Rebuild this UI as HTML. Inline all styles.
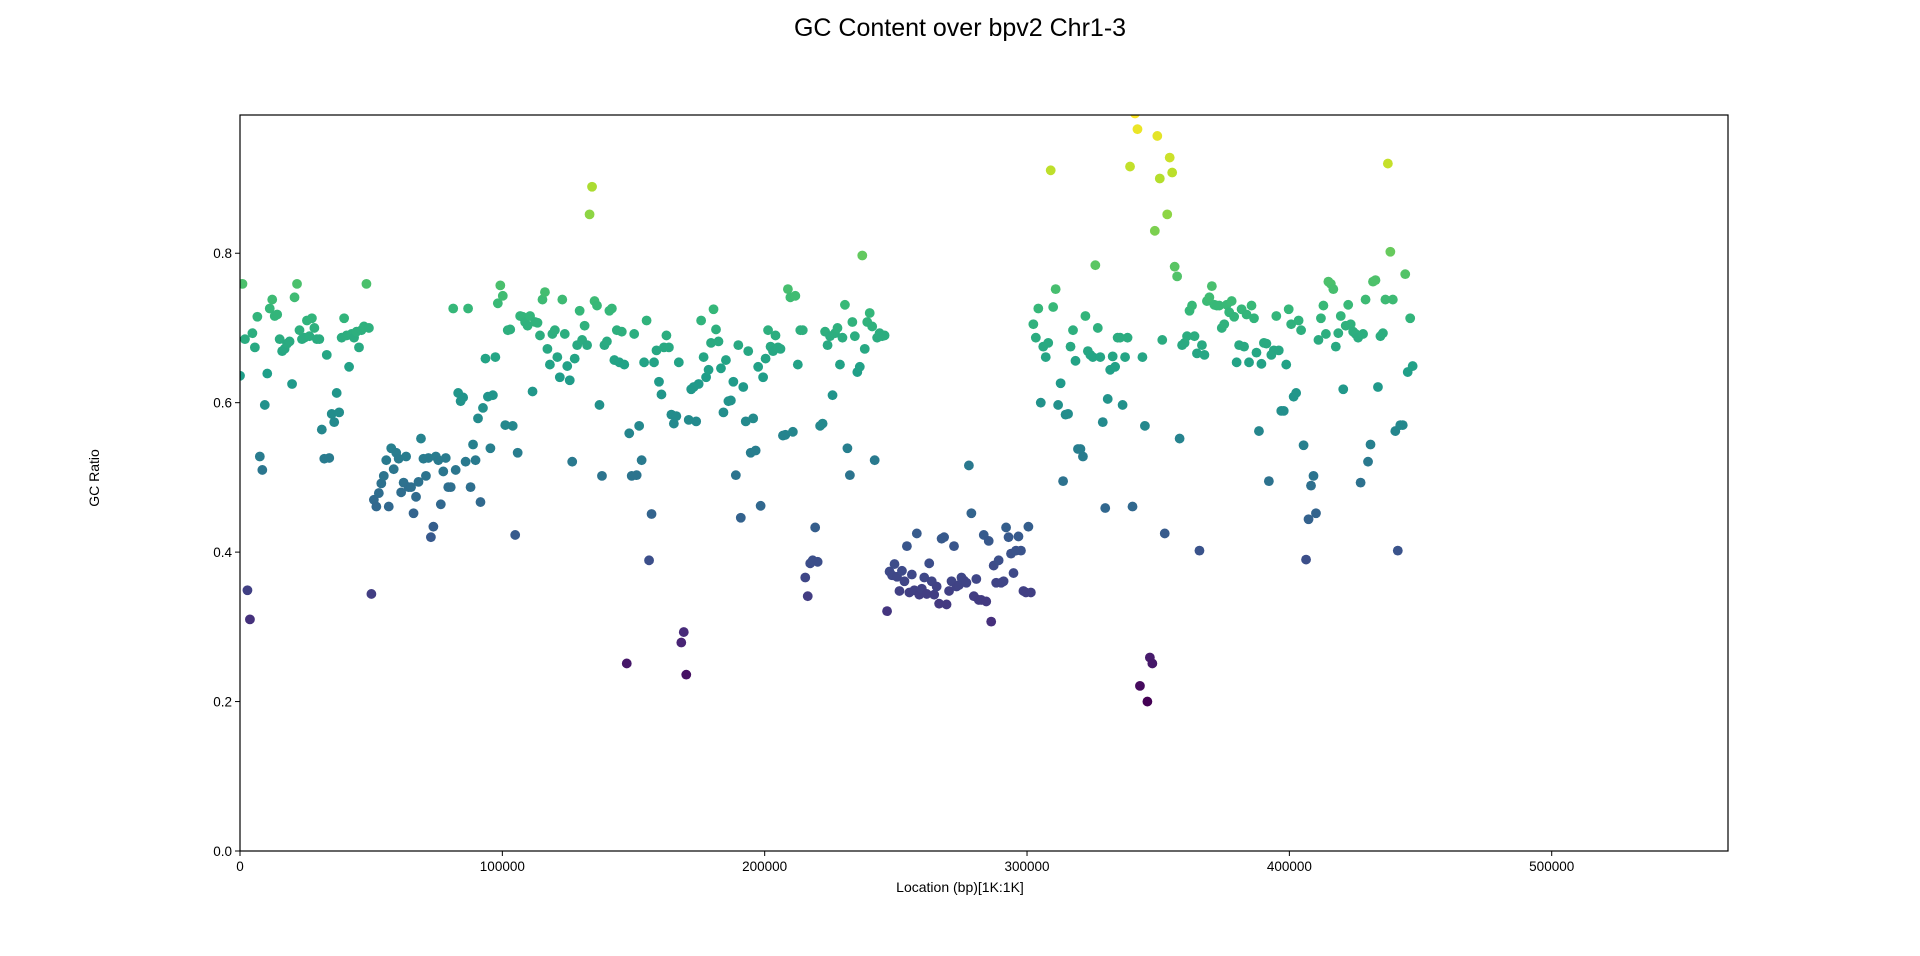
<!DOCTYPE html>
<html><head><meta charset="utf-8"><style>
html,body{margin:0;padding:0;background:#fff;}
svg{display:block;font-family:"Liberation Sans","DejaVu Sans",sans-serif;}
</style></head><body>
<svg id="chart" width="1920" height="956" viewBox="0 0 1920 956" xmlns="http://www.w3.org/2000/svg">
<rect width="1920" height="956" fill="#fff"/>
<text x="960" y="36" font-size="25" text-anchor="middle" fill="#000">GC Content over bpv2 Chr1-3</text>
<defs><clipPath id="plotclip"><rect x="240" y="115" width="1488" height="736"/></clipPath></defs>
<g id="points" clip-path="url(#plotclip)"></g>
<rect x="240" y="115" width="1488" height="736" fill="none" stroke="#000" stroke-width="1.2"/>
<g id="xticks"></g>
<g id="yticks"></g>
<text x="960" y="892" font-size="14" text-anchor="middle">Location (bp)[1K:1K]</text>
<text transform="translate(99,478) rotate(-90)" font-size="14" text-anchor="middle">GC Ratio</text>
</svg>
<script>
const gcRatio = [
.636,.759,.685,.349,.310,.693,.674,.715,.528,.510,.597,.639,.726,.738,.716,.718,.685,.669,.672,.679,.682,.625,.741,.759,.697,.685,.687,.710,.689,.713,.700,.685,.685,.564,.525,.664,.526,.585,.574,.613,.587,.687,.713,.690,.648,.692,.687,.695,.674,.697,.702,.759,.700,.344,
.470,.461,.479,.492,.502,.523,.461,.539,.511,.533,.525,.480,.493,.528,.487,.487,.452,.474,.494,.552,.525,.502,.526,.420,.434,.528,.523,.464,.508,.526,.487,.487,.726,.510,.613,.602,.607,.521,.726,.487,.544,.523,.579,.467,.593,.659,.608,.539,.610,.661,.733,.757,.743,.570,.697,.698,.569,.423,.533,.716,
.715,.708,.703,.716,.615,.708,.707,.690,.738,.748,.672,.651,.692,.697,.661,.634,.738,.692,.649,.630,.521,.659,.677,.723,.684,.703,.677,.852,.889,.736,.730,.597,.502,.677,.682,.723,.726,.657,.697,.654,.695,.651,.251,.559,.502,.692,.503,.569,.523,.654,.710,.389,.451,.654,.670,.628,.611,.674,.690,.674,.584,.572,.582,.654,.279,.293,.236,.577,.618,.621,.575,.625,.710,.661,.634,.644,.680,.725,.698,.682,.646,.587,.657,.602,.603,.628,.503,.677,.446,.621,.575,.669,.533,.579,.536,.648,.462,.634,.659,.697,.675,.669,.690,.674,.672,.556,.557,.752,.741,.561,.743,.651,.697,.697,.366,.341,.385,.389,.433,.387,.569,.572,.695,.677,.689,.610,.693,.700,.651,.687,.731,.539,.503,.708,.689,.641,.648,.797,.672,.708,.720,.702,.523,.687,.693,.689,.690,
.321,.374,.369,.384,.367,.348,.375,.361,.408,.346,.370,.349,.425,.343,.351,.366,.344,.385,.361,.343,.354,.331,.418,.420,.330,.348,.361,.408,.354,.356,.366,.362,.359,.516,.452,.341,.364,.336,.336,.423,.334,.415,.307,.382,.359,.389,.359,.361,.433,.420,.398,.372,.402,.421,.402,.348,.346,.434,.346,
.705,.687,.726,.600,.675,.661,.680,.911,.728,.752,.597,.626,.495,.584,.585,.675,.697,.656,.538,.538,.528,.716,.669,.664,.661,.784,.700,.661,.574,.459,.605,.644,.662,.648,.687,.687,.597,.661,.687,.916,.461,.987,.966,.221,.661,.569,.200,.259,.251,.830,.957,.900,.684,.425,.852,.928,.908,.782,.769,.552,.677,.680,.689,.723,.730,.689,.666,.402,.677,.664,.736,.741,.756,.731,.730,.730,.700,.705,.731,.721,.736,.715,.654,.677,.725,.675,.718,.654,.730,.713,.667,.562,.652,.680,.679,.495,.664,.670,.716,.670,.589,.589,.651,.725,.705,.608,.613,.710,.697,.543,.390,.444,.489,.502,.452,.684,.713,.730,.692,.762,.759,.752,.675,.693,.716,.618,.703,.731,.705,.695,.692,.687,.493,.692,.738,.521,.544,.762,.764,.621,.689,.693,.738,.920,.802,.738,.562,.402,.570,.570,.772,.641,.713,.649
];
const lastLocation = 447000;
const xTickValues = [0,100000,200000,300000,400000,500000];
const xTickLabels = ["0","100000","200000","300000","400000","500000"];
const yTickValues = [0,0.2,0.4,0.6,0.8];
const yTickLabels = ["0.0","0.2","0.4","0.6","0.8"];

const X0=240,X1=1728,Y0=851,Y1=115,XMAX=567200,YMAX=0.985;
const xs=v=>X0+(v/XMAX)*(X1-X0);
const ys=v=>Y0-(v/YMAX)*(Y0-Y1);
const NS="http://www.w3.org/2000/svg";
const vir=[[68,1,84],[72,40,120],[62,74,137],[49,104,142],[38,130,142],[31,158,137],[53,183,121],[109,205,89],[180,222,44],[253,231,37]];
function viridis(t){t=Math.max(0,Math.min(1,t));const p=t*(vir.length-1),i=Math.min(vir.length-2,Math.floor(p)),f=p-i;
const c=vir[i].map((a,k)=>Math.round(a+(vir[i+1][k]-a)*f));return `rgb(${c[0]},${c[1]},${c[2]})`;}
const mn=Math.min(...gcRatio),mx=Math.max(...gcRatio);
const g=document.getElementById('points');
gcRatio.forEach((v,i)=>{
  const loc=i*lastLocation/(gcRatio.length-1);
  const c=document.createElementNS(NS,'circle');
  c.setAttribute('cx',xs(loc));c.setAttribute('cy',ys(v));c.setAttribute('r',4.9);
  c.setAttribute('fill',viridis((v-mn)/(mx-mn)));
  
  
  g.appendChild(c);
});
const xt=document.getElementById('xticks');
xTickValues.forEach((v,i)=>{
  const x=xs(v);
  const l=document.createElementNS(NS,'line');
  l.setAttribute('x1',x);l.setAttribute('x2',x);l.setAttribute('y1',Y0);l.setAttribute('y2',Y0+5);l.setAttribute('stroke','#000');
  
  
  xt.appendChild(l);
  const t=document.createElementNS(NS,'text');
  t.setAttribute('x',x);t.setAttribute('y',Y0+20);t.setAttribute('font-size','13.5');t.setAttribute('text-anchor','middle');
  t.textContent=xTickLabels[i];
  
  
  xt.appendChild(t);
});
const yt=document.getElementById('yticks');
yTickValues.forEach((v,i)=>{
  const y=ys(v);
  const l=document.createElementNS(NS,'line');
  l.setAttribute('x1',X0-5);l.setAttribute('x2',X0);l.setAttribute('y1',y);l.setAttribute('y2',y);l.setAttribute('stroke','#000');
  
  
  yt.appendChild(l);
  const t=document.createElementNS(NS,'text');
  t.setAttribute('x',X0-8);t.setAttribute('y',y+5);t.setAttribute('font-size','13.5');t.setAttribute('text-anchor','end');
  t.textContent=yTickLabels[i];
  
  
  yt.appendChild(t);
});
</script>
</body></html>
